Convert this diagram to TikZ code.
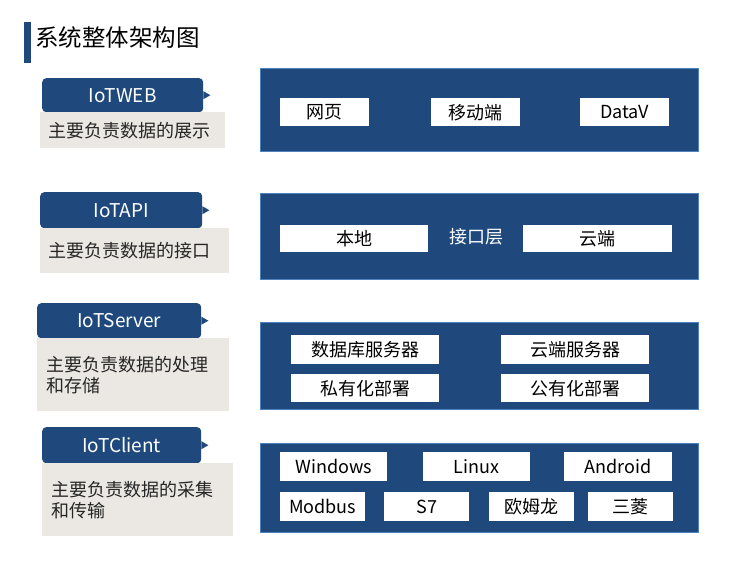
\documentclass[tikz,border=0pt]{standalone}
\usepackage{fontspec}
\setmainfont{Noto Sans CJK SC}
\usetikzlibrary{positioning}

\definecolor{deepblue}{RGB}{31,73,125}
\definecolor{edgeblue}{RGB}{79,129,189}
\definecolor{paper}{RGB}{235,232,227}

\tikzset{
  panel/.style={fill=deepblue, draw=edgeblue, line width=0.8pt, anchor=north west, inner sep=0pt},
  item/.style={fill=white, anchor=north west, inner sep=0pt, font=\fontsize{18}{21}\selectfont},
  tab/.style={fill=deepblue, rounded corners=4pt, text=white, anchor=north west, inner sep=0pt,
    font=\fontsize{19}{22}\selectfont},
  desc/.style={fill=paper, anchor=north west, align=left, inner ysep=0pt, text=black!85,
    font=\fontsize{18}{21}\selectfont},
}

\begin{document}
\begin{tikzpicture}[x=1pt, y=-1pt]
    \useasboundingbox (0,0) rectangle (741,568);

    % Title
    \fill[deepblue] (24,22) rectangle (31,63);
    \node[anchor=west, inner sep=0pt, font=\fontsize{23.5}{26}\selectfont] (title) at (35,38) {系统整体架构图};

    % Layer tabs with pointers
    \node[tab, minimum width=161pt, minimum height=34pt] (webtab) at (42,78) {IoTWEB};
    \node[tab, minimum width=162pt, minimum height=36pt] (apitab) at (40,192) {IoTAPI};
    \node[tab, minimum width=164pt, minimum height=35pt] (servertab) at (37,303) {IoTServer};
    \node[tab, minimum width=159pt, minimum height=36pt] (clienttab) at (42,427) {IoTClient};
    \foreach \t in {webtab, apitab, servertab, clienttab}
        \fill[deepblue] ([yshift=4pt]\t.east) -- ([xshift=7pt]\t.east) -- ([yshift=-4pt]\t.east) -- cycle;

    % Descriptions
    \node[desc, text width=169pt, inner xsep=8pt, minimum height=36pt] (webdesc) at (40,112) {主要负责数据的展示};
    \node[desc, text width=173pt, inner xsep=8pt, minimum height=45pt] (apidesc) at (40,228) {主要负责数据的接口};
    \node[desc, text width=174pt, inner xsep=9pt, minimum height=73pt] (serverdesc) at (37,338) {主要负责数据的处理\\和存储};
    \node[desc, text width=173pt, inner xsep=9pt, minimum height=73pt] (clientdesc) at (42,463) {主要负责数据的采集\\和传输};

    % IoTWEB panel
    \node[panel, minimum width=438pt, minimum height=83pt] (webpanel) at (260,68) {};
    \node[item, minimum width=89pt, minimum height=28pt] (page) at (280,98) {网页};
    \node[item, minimum width=89pt, minimum height=28pt] (mobile) at (431,98) {移动端};
    \node[item, minimum width=89pt, minimum height=28pt] (datav) at (580,98) {DataV};

    % IoTAPI panel
    \node[panel, minimum width=438pt, minimum height=86pt] (apipanel) at (260,193) {};
    \node[item, minimum width=148pt, minimum height=27pt] (local) at (280,225) {本地};
    \node[item, minimum width=149pt, minimum height=27pt] (cloud) at (523,225) {云端};
    \node[text=white, font=\fontsize{18}{21}\selectfont, inner sep=0pt] (apilayer) at (476,237) {接口层};

    % IoTServer panel
    \node[panel, minimum width=438pt, minimum height=87pt] (serverpanel) at (260,322) {};
    \node[item, minimum width=148pt, minimum height=29pt] (dbserver) at (291,335) {数据库服务器};
    \node[item, minimum width=148pt, minimum height=29pt] (cloudserver) at (501,335) {云端服务器};
    \node[item, minimum width=148pt, minimum height=28pt] (private) at (291,374) {私有化部署};
    \node[item, minimum width=148pt, minimum height=28pt] (public) at (501,374) {公有化部署};

    % IoTClient panel
    \node[panel, minimum width=438pt, minimum height=89pt] (clientpanel) at (260,443) {};
    \node[item, minimum width=107pt, minimum height=29pt] (windows) at (280,452) {Windows};
    \node[item, minimum width=107pt, minimum height=29pt] (linux) at (423,452) {Linux};
    \node[item, minimum width=108pt, minimum height=29pt] (android) at (564,452) {Android};
    \node[item, minimum width=85pt, minimum height=29pt] (modbus) at (280,492) {Modbus};
    \node[item, minimum width=85pt, minimum height=29pt] (siemens) at (384,492) {S7};
    \node[item, minimum width=85pt, minimum height=29pt] (omron) at (489,492) {欧姆龙};
    \node[item, minimum width=85pt, minimum height=29pt] (mitsubishi) at (588,492) {三菱};
\end{tikzpicture}
\end{document}
